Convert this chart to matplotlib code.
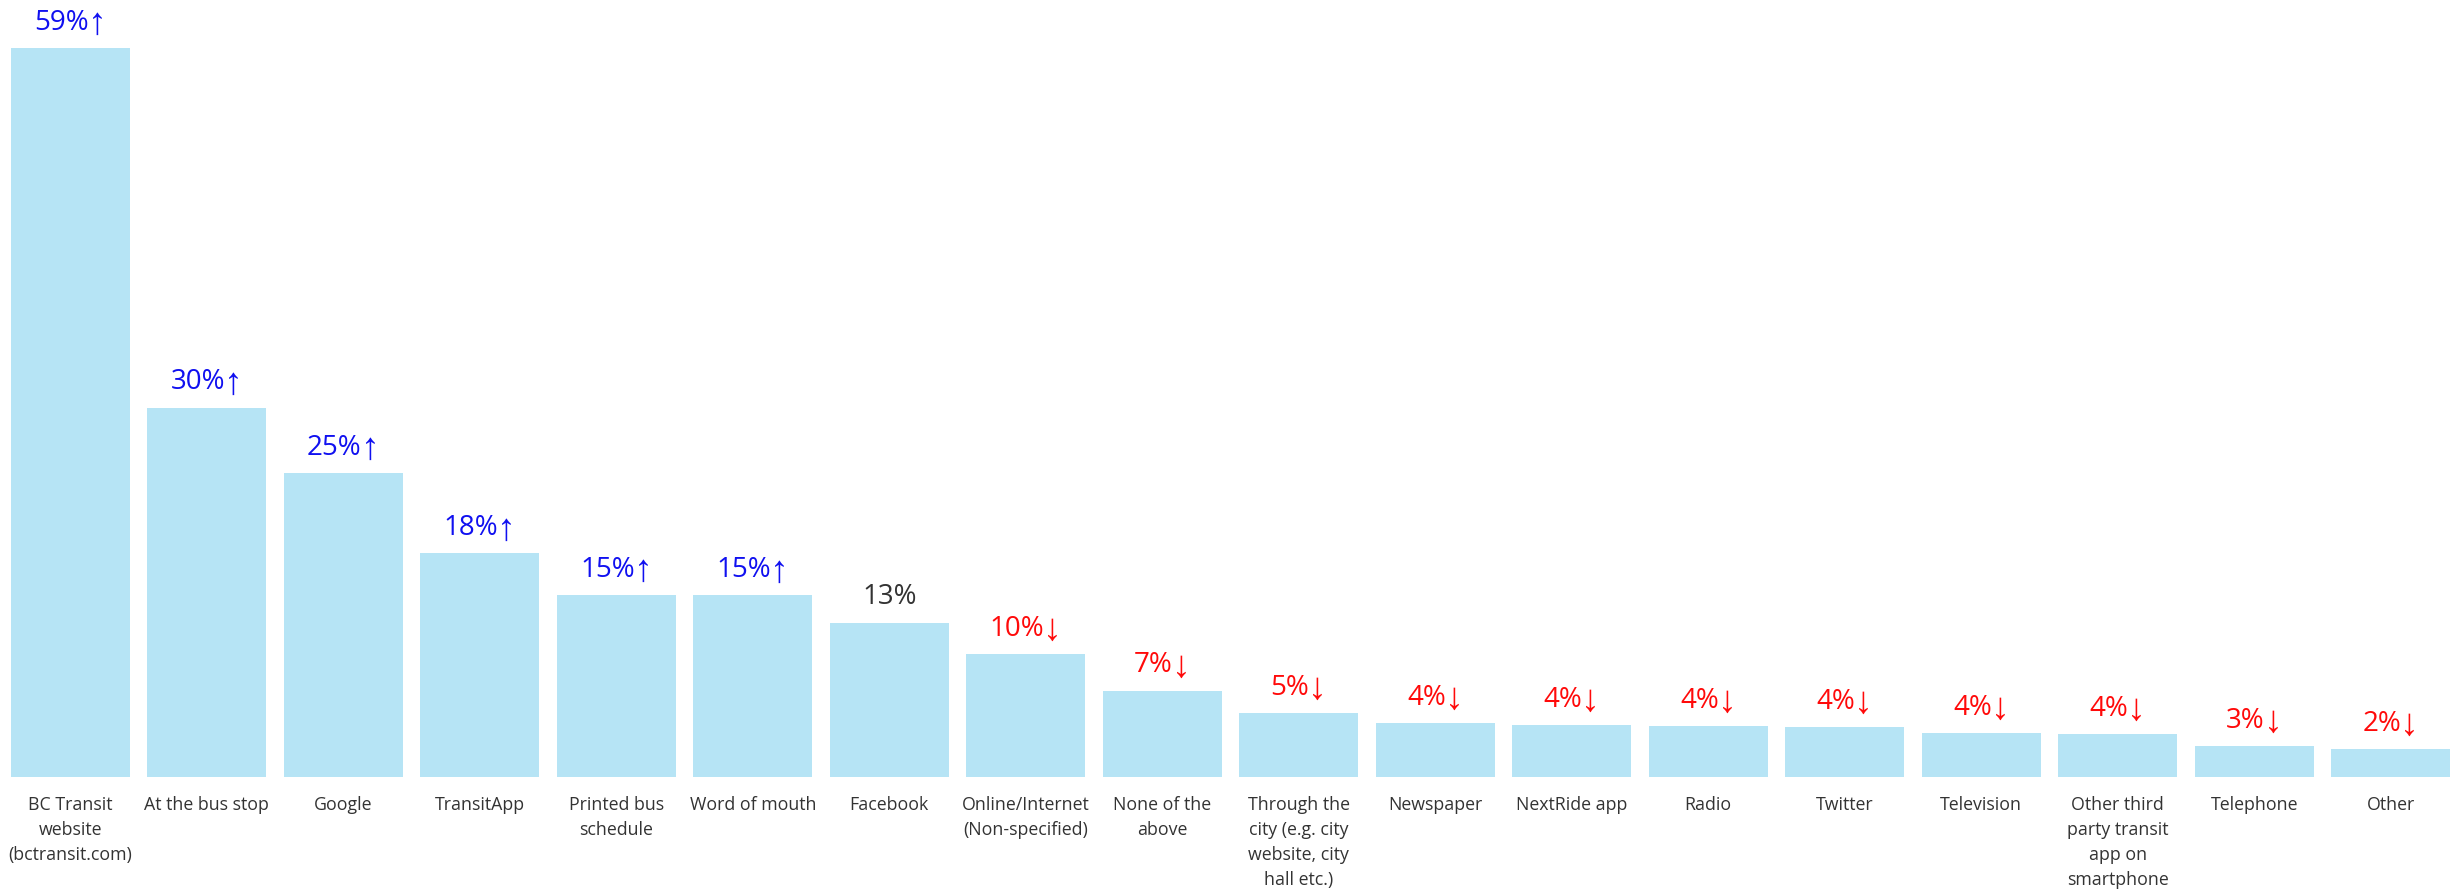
import matplotlib
matplotlib.use("Agg")

import matplotlib.pyplot as plt

# -----------------------------
# DATA
# -----------------------------
categories = [
    "BC Transit\nwebsite\n(bctransit.com)",
    "At the bus stop",
    "Google",
    "TransitApp",
    "Printed bus\nschedule",
    "Word of mouth",
    "Facebook",
    "Online/Internet\n(Non-specified)",
    "None of the\nabove",
    "Through the\ncity (e.g. city\nwebsite, city\nhall etc.)",
    "Newspaper",
    "NextRide app",
    "Radio",
    "Twitter",
    "Television",
    "Other third\nparty transit\napp on\nsmartphone",
    "Telephone",
    "Other",
]
values = [59.0, 29.9, 24.6, 18.1, 14.75, 14.7, 12.5, 9.95, 7.0, 5.2,
          4.37, 4.2, 4.13, 4.04, 3.56, 3.5, 2.5, 2.27]
value_labels = ["59%", "30%", "25%", "18%", "15%", "15%", "13%", "10%", "7%", "5%",
                "4%", "4%", "4%", "4%", "4%", "4%", "3%", "2%"]
trends = ["up", "up", "up", "up", "up", "up", "none", "down", "down", "down",
          "down", "down", "down", "down", "down", "down", "down", "down"]

# -----------------------------
# STYLE
# -----------------------------
BAR_COLOUR   = "#b6e4f5"
TREND_STYLE  = {
    "up":   ("↑", "#1010f0"),
    "down": ("↓", "#ff0a0a"),
    "none": ("",  "#333333"),
}
LABEL_SIZE   = 20
ARROW_SIZE   = 27
LABEL_OFFSET = 13   # points above bar top (baseline)

plt.rcParams["font.family"] = ["Open Sans", "DejaVu Sans"]

fig = plt.figure(figsize=(24.54, 8.90), dpi=100)
ax = fig.add_axes([0, 113 / 890, 1, 777 / 890])

x = list(range(len(categories)))
ax.bar(x, values, width=0.87, color=BAR_COLOUR, edgecolor="none")

ax.set_xlim(-0.515, 17.463)
ax.set_ylim(0, 62.88)

# value labels: number + thin arrow, centred together over the bar
renderer = fig.canvas.get_renderer()
px2pt = 72 / fig.dpi
for xi, v, lab, tr in zip(x, values, value_labels, trends):
    arrow, colour = TREND_STYLE[tr]
    num = ax.annotate(lab, (xi, v), xytext=(0, LABEL_OFFSET), textcoords="offset points",
                      ha="left", va="baseline", fontsize=LABEL_SIZE, color=colour)
    w1 = num.get_window_extent(renderer).width
    if not arrow:
        num.set_ha("center")
        continue
    arr = ax.annotate(arrow, (xi, v), xytext=(0, LABEL_OFFSET - 3), textcoords="offset points",
                      ha="left", va="baseline", fontsize=ARROW_SIZE, color=colour,
                      family="Liberation Sans")
    w2 = arr.get_window_extent(renderer).width
    gap = -1
    start = -(w1 + gap + w2) / 2
    num.xyann = (start * px2pt, LABEL_OFFSET)
    arr.xyann = ((start + w1 + gap) * px2pt, LABEL_OFFSET - 3)

ax.set_xticks(x)
ax.set_xticklabels(categories, fontsize=12.8, color="#333333", linespacing=1.5,
                   va="top")
ax.tick_params(axis="x", length=0, pad=14)
ax.set_yticks([])
for s in ax.spines.values():
    s.set_visible(False)

fig.savefig("out.png", dpi=100, facecolor="white")
